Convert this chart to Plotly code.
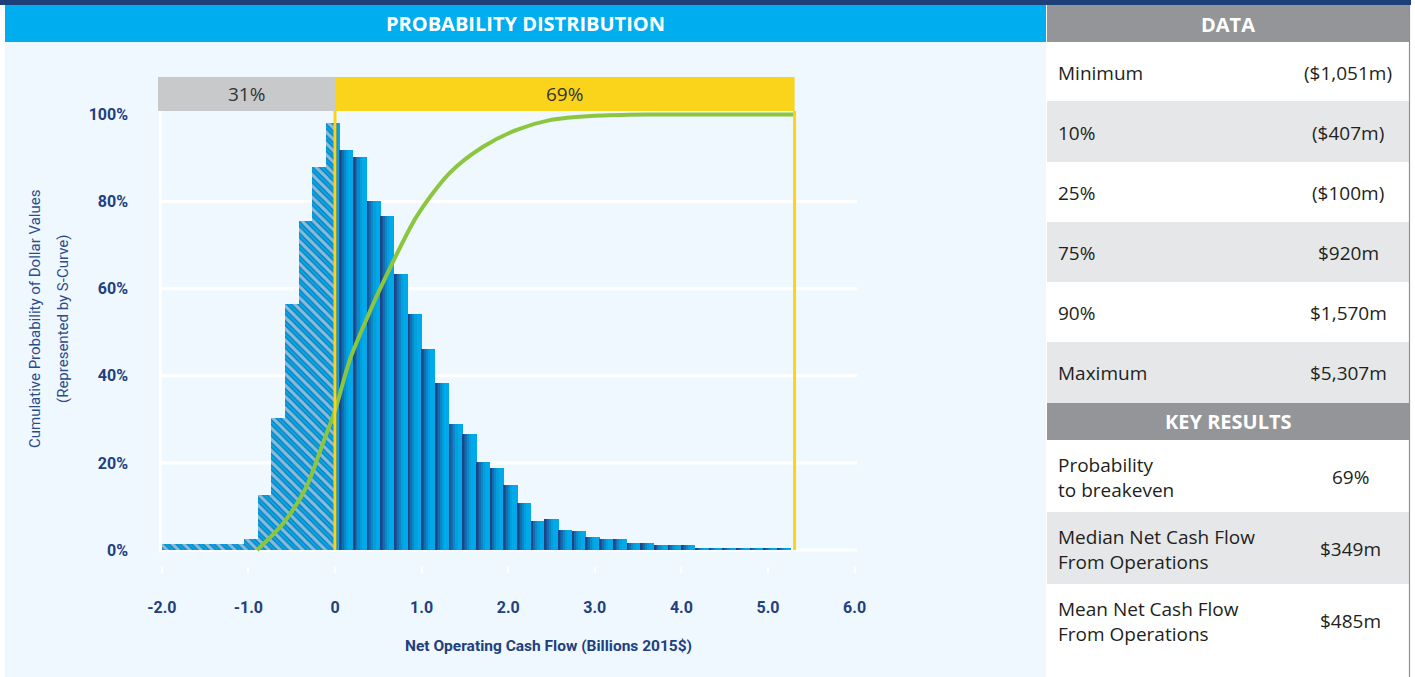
import numpy as np
import plotly.graph_objects as go

W, H = 1415, 677

# ---------------- data ----------------
bin_start = -2.0
bin_width = 0.158
bin_heights = [1.4, 1.4, 1.4, 1.4, 1.4, 1.4, 2.5, 12.6, 30.4, 56.5, 75.5, 87.9, 98.0,
               91.8, 90.2, 80.1, 76.8, 63.4, 54.2, 46.2, 38.3, 28.9, 26.6, 20.2, 18.8,
               14.9, 10.8, 6.7, 7.1, 4.6, 4.4, 3.0, 2.5, 2.5, 1.6, 1.6, 1.1, 1.1, 1.1,
               0.5, 0.5, 0.5, 0.5, 0.5, 0.5, 0.5]
breakeven = 0.0
maximum_value = 5.307

s_curve_x = [-0.90, -0.60, -0.33, -0.14, 0.0, 0.17, 0.36, 0.55, 0.94, 1.32, 1.71, 2.09, 2.48, 3.0, 3.6, 4.5, 5.307]
s_curve_y = [0.0, 6.1, 14.5, 24.5, 32.0, 43.6, 52.8, 61.2, 76.5, 86.5, 92.6, 96.4, 98.7, 99.7, 100.0, 100.0, 100.0]

band_labels = ["31%", "69%"]

x_tick_vals = [-2, -1, 0, 1, 2, 3, 4, 5, 6]
x_tick_text = ["-2.0", "-1.0", "0", "1.0", "2.0", "3.0", "4.0", "5.0", "6.0"]
y_tick_vals = [0, 20, 40, 60, 80, 100]
y_tick_text = ["0%", "20%", "40%", "60%", "80%", "100%"]

y_title_lines = ["Cumulative Probability of Dollar Values", "(Represented by S-Curve)"]
x_title = "Net Operating Cash Flow (Billions 2015$)"

data_labels = ["Minimum", "10%", "25%", "75%", "90%", "Maximum"]
data_values = ["($1,051m)", "($407m)", "($100m)", "$920m", "$1,570m", "$5,307m"]
key_labels = ["Probability<br>to breakeven", "Median Net Cash Flow<br>From Operations",
              "Mean Net Cash Flow<br>From Operations"]
key_values = ["69%", "$349m", "$485m"]

# ---------------- styles ----------------
NAVY = "#1f3f7b"
TXT_NAVY = "#22407d"
CYAN = "#00aeef"
PANEL = "#eff8fe"
GREY_HDR = "#939598"
ROW_GREY = "#e6e7e8"
YELLOW = "#f9d41b"
GREEN = "#8cc63f"
BAR_CYAN = "#00a9e6"
COND = "Roboto, Liberation Sans, sans-serif"
BODY = "Open Sans, Noto Sans, sans-serif"
TXT = "#231f20"


def px(x):
    return x / W


def py(y):
    return 1 - y / H


# plot area in pixels
PL, PR, PT, PB = 158, 857, 77, 566
ZERO_PX, UNIT_PX = 335.0, 86.6
Y0_PX, PCT_PX = 550.0, 4.355
x_range = [(PL - ZERO_PX) / UNIT_PX, (PR - ZERO_PX) / UNIT_PX]
y_range = [(Y0_PX - PB) / PCT_PX, (Y0_PX - PT) / PCT_PX]

heights = np.array(bin_heights)
lefts = bin_start + bin_width * np.arange(len(heights))
rights = lefts + bin_width

fig = go.Figure()

# hatched (loss) part
neg = lefts < breakeven
h_left = lefts[neg]
h_w = np.minimum(rights[neg], breakeven) - h_left
h_y = heights[neg]
fig.add_trace(go.Bar(x=h_left, y=h_y, width=h_w, offset=0,
                     marker=dict(color=BAR_CYAN, line=dict(width=0),
                                 pattern=dict(shape="\\", fgcolor="#1b4a8c", bgcolor=BAR_CYAN,
                                              size=8, solidity=0.72, fillmode="overlay")),
                     hoverinfo="skip", showlegend=False))
fig.add_trace(go.Bar(x=h_left, y=h_y, width=h_w, offset=0,
                     marker=dict(color="rgba(0,0,0,0)", line=dict(width=0),
                                 pattern=dict(shape="\\", fgcolor="white", bgcolor="rgba(0,0,0,0)",
                                              size=8, solidity=0.4, fillmode="overlay")),
                     hoverinfo="skip", showlegend=False))

# solid (gain) part with left-dark gradient
pos = rights > breakeven
s_left = np.maximum(lefts[pos], breakeven)
s_w = rights[pos] - s_left
s_y = heights[pos]
grad = [(1.0, "#00aaea"), (0.62, "#039fdd"), (0.45, "#0a88c8"), (0.30, "#116fb1"), (0.16, "#18579b"), (0.06, "#1d4585")]
for frac, col in grad:
    fig.add_trace(go.Bar(x=s_left, y=s_y, width=s_w * frac, offset=0,
                         marker=dict(color=col, line=dict(width=0)),
                         hoverinfo="skip", showlegend=False))

# S-curve
fig.add_trace(go.Scatter(x=s_curve_x, y=s_curve_y, mode="lines",
                         line=dict(color=GREEN, width=4, shape="spline", smoothing=0.8),
                         hoverinfo="skip", showlegend=False))

shapes = []
# page background pieces
shapes.append(dict(type="rect", xref="paper", yref="paper", x0=px(5), x1=px(1046), y0=py(677), y1=py(42),
                   fillcolor=PANEL, line=dict(width=0), layer="below"))
shapes.append(dict(type="rect", xref="paper", yref="paper", x0=px(0), x1=px(1411), y0=py(5), y1=py(0),
                   fillcolor=NAVY, line=dict(width=0), layer="below"))
shapes.append(dict(type="rect", xref="paper", yref="paper", x0=px(5), x1=px(1046), y0=py(42), y1=py(5),
                   fillcolor=CYAN, line=dict(width=0), layer="below"))
# table
shapes.append(dict(type="rect", xref="paper", yref="paper", x0=px(1047), x1=px(1409), y0=py(42), y1=py(5),
                   fillcolor=GREY_HDR, line=dict(width=0), layer="below"))
row_edges = [42, 101, 162, 222, 282, 342, 403]
for i in range(len(data_labels)):
    shapes.append(dict(type="rect", xref="paper", yref="paper", x0=px(1047), x1=px(1409),
                       y0=py(row_edges[i + 1]), y1=py(row_edges[i]),
                       fillcolor="white" if i % 2 == 0 else ROW_GREY, line=dict(width=0), layer="below"))
shapes.append(dict(type="rect", xref="paper", yref="paper", x0=px(1047), x1=px(1409), y0=py(440), y1=py(403),
                   fillcolor=GREY_HDR, line=dict(width=0), layer="below"))
key_edges = [440, 512, 584, 677]
for i in range(len(key_labels)):
    shapes.append(dict(type="rect", xref="paper", yref="paper", x0=px(1047), x1=px(1409),
                       y0=py(key_edges[i + 1]), y1=py(key_edges[i]),
                       fillcolor="white" if i % 2 == 0 else ROW_GREY, line=dict(width=0), layer="below"))
shapes.append(dict(type="line", xref="paper", yref="paper", x0=px(1409.5), x1=px(1409.5), y0=py(677), y1=py(5),
                   line=dict(color="#8f9194", width=1.2), layer="below"))

# gridlines
for v in [0, 20, 40, 60, 80]:
    shapes.append(dict(type="line", xref="x domain", yref="y", x0=0.003, x1=1, y0=v, y1=v,
                       line=dict(color="white", width=3), layer="below"))
shapes.append(dict(type="line", xref="x domain", yref="y", x0=0.003, x1=0.003, y0=-0.6, y1=100.8,
                   line=dict(color="white", width=3), layer="below"))
# probability band
band_bottom, band_top = 100.8, y_range[1]
shapes.append(dict(type="rect", xref="x", yref="y", x0=x_range[0], x1=breakeven, y0=band_bottom, y1=band_top,
                   fillcolor="#c8c9cb", line=dict(width=0), layer="below"))
shapes.append(dict(type="rect", xref="x", yref="y", x0=breakeven, x1=maximum_value, y0=band_bottom, y1=band_top,
                   fillcolor=YELLOW, line=dict(width=0), layer="below"))
for xv in [breakeven, maximum_value]:
    shapes.append(dict(type="line", xref="x", yref="y", x0=xv, x1=xv, y0=0, y1=band_bottom,
                       line=dict(color=YELLOW, width=3), layer="above"))


def ann(x, y, text, size, color, family=BODY, xanchor="center", yanchor="middle", xref="paper", yref="paper", **kw):
    return dict(xref=xref, yref=yref, x=x, y=y, text=text, showarrow=False, xanchor=xanchor, yanchor=yanchor,
                font=dict(family=family, size=size, color=color), **kw)


annotations = []
annotations.append(ann((x_range[0] + breakeven) / 2, (band_bottom + band_top) / 2, band_labels[0], 19, "#333333",
                       xref="x", yref="y"))
annotations.append(ann((breakeven + maximum_value) / 2, (band_bottom + band_top) / 2, band_labels[1], 19, "#333333",
                       xref="x", yref="y"))
# titles
annotations.append(ann(px(525.5), py(23.5), "<b>PROBABILITY DISTRIBUTION</b>", 20, "white"))
annotations.append(ann(px(1228), py(24), "<b>DATA</b>", 20, "white"))
annotations.append(ann(px(1228), py(421.5), "<b>KEY RESULTS</b>", 20, "white"))
annotations.append(ann(px(35), py(319), y_title_lines[0], 15, "#2b4b8b", family=COND, textangle=-90))
annotations.append(ann(px(63), py(319), y_title_lines[1], 15, "#2b4b8b", family=COND, textangle=-90))
annotations.append(ann(px(548), py(646), "<b>" + x_title + "</b>", 15.5, TXT_NAVY, family=COND))
# table text
for i, (lab, val) in enumerate(zip(data_labels, data_values)):
    yc = (row_edges[i] + row_edges[i + 1]) / 2 + 1
    annotations.append(ann(px(1056), py(yc), lab, 19, TXT, xanchor="left"))
    annotations.append(ann(px(1348), py(yc), val, 19, TXT))
for i, (lab, val) in enumerate(zip(key_labels, key_values)):
    yc = (key_edges[i] + min(key_edges[i + 1], key_edges[i] + 72)) / 2 + 1
    annotations.append(ann(px(1056), py(yc), lab, 19, TXT, xanchor="left", align="left"))
    annotations.append(ann(px(1350), py(yc), val, 19, TXT))

fig.update_layout(
    width=W, height=H, autosize=False, margin=dict(l=0, r=0, t=0, b=0, pad=0),
    paper_bgcolor="white", plot_bgcolor="rgba(0,0,0,0)",
    barmode="overlay", bargap=0,
    shapes=shapes, annotations=annotations,
    xaxis=dict(domain=[px(PL), px(PR)], range=x_range, tickvals=x_tick_vals, ticktext=x_tick_text,
               showgrid=False, zeroline=False, showline=False, automargin=False, fixedrange=True,
               ticks="outside", ticklen=6, tickwidth=2, tickcolor="white",
               ticklabelstandoff=21,
               tickfont=dict(family=COND, size=16, color=TXT_NAVY, weight="bold")),
    yaxis=dict(domain=[py(PB), py(PT)], range=y_range, tickvals=y_tick_vals, ticktext=y_tick_text,
               showgrid=False, zeroline=False, showline=False, ticks="", automargin=False, fixedrange=True,
               ticklabelstandoff=29,
               tickfont=dict(family=COND, size=16, color=TXT_NAVY, weight="bold")),
)

fig.write_html("out.html",
               config={"displayModeBar": False, "responsive": False},
               post_script="document.body.style.margin='0';document.body.style.overflow='hidden';")
